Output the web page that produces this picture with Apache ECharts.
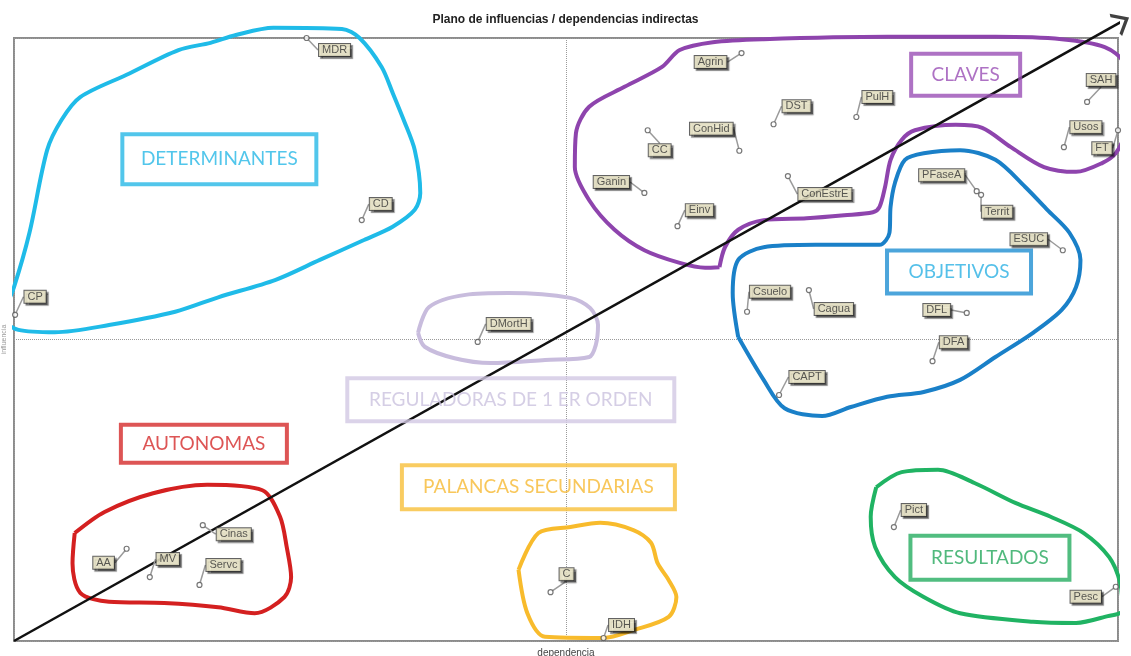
<!DOCTYPE html>
<html>
<head>
<meta charset="utf-8">
<script src="https://cdn.jsdelivr.net/npm/echarts@6/dist/echarts.min.js"></script>
<style>
html, body { margin: 0; padding: 0; background: #fff; }
#pchart { width: 1131px; height: 656px; }
</style>
</head>
<body>
<div id="pchart"></div>
<script>
// variables del plano (dependencia = x, influencia = y)
var variables = ['MDR', 'CD', 'CP', 'DMortH', 'Agrin', 'DST', 'PulH', 'ConHid', 'CC', 'Ganin',
	'Einv', 'ConEstrE', 'SAH', 'Usos', 'FT', 'PFaseA', 'Territ', 'ESUC', 'Csuelo', 'Cagua',
	'DFL', 'DFA', 'CAPT', 'Cinas', 'AA', 'MV', 'Servc', 'C', 'IDH', 'Pict', 'Pesc'];
var dependencia = [26.5, 31.5, 0.1, 42.0, 65.9, 68.8, 76.3, 65.7, 57.4, 57.1,
	60.1, 70.1, 97.2, 95.1, 100, 87.2, 87.6, 95.0, 66.4, 72.0,
	86.3, 83.2, 69.3, 17.1, 10.2, 12.3, 16.8, 48.6, 53.4, 79.7, 99.8];
var influencia = [100, 69.8, 54.1, 49.6, 97.5, 85.7, 86.9, 81.3, 84.7, 74.3,
	68.8, 77.1, 89.4, 81.9, 84.7, 74.6, 74.0, 64.8, 54.6, 58.2,
	54.4, 46.4, 40.8, 19.2, 15.3, 10.6, 9.3, 8.1, 0.5, 18.9, 9.0];
// desplazamiento de cada etiqueta respecto a su punto (px)
var labelShift = [[28, 12], [19, -16], [20, -18], [31, -18], [-31, 9], [23, -18], [21, -20], [-28, -22], [12, 20], [-33, -11],
	[22, -16], [37, 18], [14, -22], [22, -20], [-16, 18], [-35, -16], [16, 17], [-34, -11], [23, -20], [25, 19],
	[-30, -3], [21, -19], [28, -18], [31, 9], [-23, 14], [18, -18], [24, -20], [16, -18], [18, -13], [20, -17], [-30, 10]];

// grupos
var categorias = ['DETERMINANTES', 'CLAVES', 'OBJETIVOS', 'REGULADORAS DE 1 ER ORDEN', 'AUTONOMAS', 'PALANCAS SECUNDARIAS', 'RESULTADOS'];
var catX = [18.6, 86.2, 85.6, 45.0, 17.2, 47.5, 88.4];
var catY = [79.9, 93.9, 61.2, 40.0, 32.7, 25.5, 13.8];
var catBox = [[198, 54], [113, 46], [148, 47], [331, 47], [170, 42], [277, 48], [163, 48]];
var catText = ['#27b8e6', '#9a4fb5', '#2ab0e4', '#cbc2de', '#d42a2a', '#f6b932', '#25a85c'];
var catBorder = ['#27b8e6', '#9a4fb5', '#1f8fd2', '#d2c8e4', '#d42a2a', '#f8bf3a', '#25ad60'];

// contornos dibujados a mano
var contornoDeterminantes = [[-0.8, 55.2], [0.0, 58.7], [1.4, 67.7], [3.0, 81.4], [4.3, 86.4], [6.0, 90.2], [10.2, 93.9],
	[14.9, 98.0], [17.8, 99.2], [20.1, 100.5], [23.5, 101.7], [29.7, 101.5], [31.3, 100.0], [33.3, 95.2], [34.3, 90.9],
	[35.3, 86.4], [36.3, 81.4], [36.8, 74.3], [36.3, 71.5], [34.3, 68.7], [31.7, 66.5], [27.7, 63.2], [23.7, 59.9],
	[18.5, 57.0], [14.6, 54.6], [8.6, 52.4], [3.7, 51.2], [0.4, 51.6], [-0.8, 53.2], [-0.8, 55.2]];
var contornoClaves = [[63.9, 62.0], [62.6, 61.9], [60.3, 62.7], [57.1, 64.8], [54.4, 68.2], [52.1, 73.1], [50.8, 78.6],
	[50.9, 84.2], [52.1, 88.6], [55.3, 91.9], [58.7, 95.2], [60.3, 98.0], [63.3, 99.3], [67.9, 99.8], [79.1, 100.2],
	[88.9, 100.2], [94.9, 99.8], [98.8, 98.5], [100.5, 95.9], [100.8, 89.7], [100.6, 84.2], [99.8, 80.9], [98.6, 79.3],
	[96.2, 77.8], [93.3, 78.6], [90.3, 81.9], [87.7, 85.1], [85.3, 85.6], [81.6, 84.7], [80.4, 83.1], [79.4, 79.8],
	[78.9, 75.3], [78.4, 72.0], [77.8, 71.1], [75.2, 70.6], [71.8, 70.1], [67.9, 69.8], [65.6, 68.2], [64.4, 65.3], [63.9, 62.0]];
var contornoObjetivos = [[65.6, 50.4], [65.1, 57.7], [65.6, 63.2], [67.9, 65.3], [72.6, 65.7], [78.4, 65.7], [79.3, 67.7],
	[79.4, 72.0], [79.8, 76.0], [80.7, 79.8], [82.4, 80.9], [85.7, 81.4], [88.9, 79.8], [91.6, 75.3], [93.6, 71.5],
	[95.6, 67.7], [96.6, 63.2], [96.2, 58.7], [94.9, 54.9], [92.3, 51.1], [88.9, 47.1], [85.7, 43.3], [82.4, 41.3],
	[79.1, 40.5], [75.8, 38.8], [73.2, 37.3], [69.8, 38.6], [67.9, 43.3], [65.6, 50.4]];
var contornoReguladoras = [[36.6, 51.1], [37.6, 55.4], [40.9, 57.4], [44.8, 57.7], [50.4, 56.9], [52.2, 55.2], [52.9, 52.4],
	[52.7, 49.1], [52.1, 47.1], [48.1, 46.6], [43.2, 46.1], [39.9, 46.9], [37.2, 48.8], [36.6, 51.1]];
var contornoAutonomas = [[5.5, 17.9], [8.2, 21.4], [12.6, 24.5], [17.5, 25.9], [22.5, 25.0], [24.1, 20.6], [24.7, 15.6],
	[25.1, 10.6], [24.5, 7.3], [21.8, 4.6], [18.5, 5.6], [13.6, 6.3], [8.6, 6.5], [6.0, 8.0], [5.3, 12.9], [5.5, 17.9]];
var contornoPalancas = [[45.7, 11.8], [47.5, 17.9], [50.4, 18.9], [53.1, 19.6], [56.1, 18.4], [57.7, 16.3], [58.3, 12.9],
	[59.3, 10.1], [60.0, 7.3], [59.3, 4.0], [56.1, 1.8], [53.4, 0.5], [48.1, 0.7], [46.5, 4.6], [45.7, 11.8]];
var contornoResultados = [[78.1, 25.5], [80.4, 28.0], [83.7, 28.4], [87.0, 26.2], [90.7, 22.9], [93.9, 20.6], [96.9, 17.9],
	[99.2, 13.9], [100.2, 9.6], [100.4, 5.1], [98.8, 4.0], [96.2, 3.0], [92.3, 3.2], [85.7, 4.6], [82.4, 7.3],
	[79.8, 10.6], [78.0, 15.6], [77.6, 20.6], [78.1, 25.5]];
var flecha = [[0, 0], [100.8, 103.2]];

var contornos = [
	[contornoDeterminantes, '#1fbbe8'],
	[contornoClaves, '#8e44ad'],
	[contornoObjetivos, '#1a80c8'],
	[contornoReguladoras, '#c8bcdd'],
	[contornoAutonomas, '#d42020'],
	[contornoPalancas, '#f8bb2c'],
	[contornoResultados, '#20b363']
];

var series = [];
function each(arr, fn) { for (var i = 0; i < arr.length; i++) fn(i, arr[i]); }

each(contornos, function(i, c) {
	series.push({
		type: 'line', data: c[0], smooth: 0.3, symbol: 'none', clip: false, silent: true, z: 2,
		lineStyle: { color: c[1], width: 4 }
	});
});

// flecha diagonal (linea + punta abierta)
series.push({
	type: 'line', data: flecha, clip: false, silent: true, z: 4, symbol: 'none',
	lineStyle: { color: '#111', width: 2.5 }
});
series.push({
	type: 'scatter', data: [flecha[1]], clip: false, silent: true, z: 4,
	symbol: 'path://M0,12 L10,0 L20,12', symbolSize: [22, 13], symbolKeepAspect: false,
	symbolRotate: -60.8, symbolOffset: [-5.7, 3.2],
	itemStyle: { color: 'rgba(0,0,0,0)', borderColor: '#111', borderWidth: 3 }
});

// recuadros de los grupos
var catData = [];
each(categorias, function(i, name) {
	catData.push({
		name: name, value: [catX[i], catY[i]],
		label: {
			color: catText[i], borderColor: catBorder[i],
			width: catBox[i][0] - 4, height: catBox[i][1] - 4, lineHeight: catBox[i][1] - 4
		}
	});
});
series.push({
	type: 'scatter', data: catData, symbolSize: 1, clip: false, silent: true, z: 5,
	itemStyle: { color: 'rgba(0,0,0,0)' },
	label: {
		show: true, position: 'inside', formatter: '{b}',
		fontFamily: 'Lato, "Open Sans", sans-serif', fontSize: 19,
		borderWidth: 2, padding: 0, align: 'center', verticalAlign: 'middle',
		backgroundColor: 'rgba(255,255,255,0)'
	}
});

// variables
var ptData = [];
each(variables, function(i, name) {
	ptData.push({ name: name, value: [dependencia[i], influencia[i]] });
});
series.push({
	type: 'scatter', data: ptData, symbol: 'circle', symbolSize: 5, clip: false, z: 10,
	itemStyle: { color: '#fff', borderColor: '#555', borderWidth: 1.2 },
	label: {
		show: true, position: 'inside', formatter: '{b}',
		fontFamily: '"Liberation Sans", Arial, sans-serif', fontSize: 11, color: '#333',
		backgroundColor: '#f7f2d2', borderColor: '#3c3c3c', borderWidth: 1,
		padding: [1, 3, 0, 3],
		shadowColor: 'rgba(0,0,0,0.55)', shadowOffsetX: 2, shadowOffsetY: 2, shadowBlur: 1
	},
	labelLayout: function(params) {
		var s = labelShift[params.dataIndex];
		return { dx: s[0], dy: s[1] };
	},
	labelLine: { show: true, lineStyle: { color: '#9a9a9a', width: 1.5 } }
});

var option = {
	animation: false,
	title: {
		text: 'Plano de influencias / dependencias indirectas',
		left: 'center', top: 9,
		textStyle: { fontSize: 12, fontWeight: 'bold', color: '#222', fontFamily: '"Liberation Sans", Arial, sans-serif' }
	},
	grid: {
		left: 14, right: 13, top: 38, bottom: 15, outerBoundsMode: 'none', containLabel: false,
		show: true, borderColor: '#8c8c8c', borderWidth: 2
	},
	xAxis: {
		type: 'value', min: 0, max: 100, interval: 50,
		name: 'dependencia', nameLocation: 'middle', nameGap: 7,
		nameTextStyle: { fontSize: 10, color: '#444', fontFamily: '"Liberation Sans", Arial, sans-serif' },
		axisLine: { show: false }, axisTick: { show: false }, axisLabel: { show: false },
		splitLine: { show: true, lineStyle: { color: '#9a9a9a', type: 'dotted', width: 1 } }
	},
	yAxis: {
		type: 'value', min: 0, max: 100, interval: 50,
		name: 'influencia', nameLocation: 'middle', nameGap: 6,
		nameTextStyle: { fontSize: 7, color: '#999', fontFamily: '"Liberation Sans", Arial, sans-serif' },
		axisLine: { show: false }, axisTick: { show: false }, axisLabel: { show: false },
		splitLine: { show: true, lineStyle: { color: '#9a9a9a', type: 'dotted', width: 1 } }
	},
	series: series
};

var myChart = echarts.init(document.getElementById('pchart'));
myChart.setOption(option);
</script>
</body>
</html>
